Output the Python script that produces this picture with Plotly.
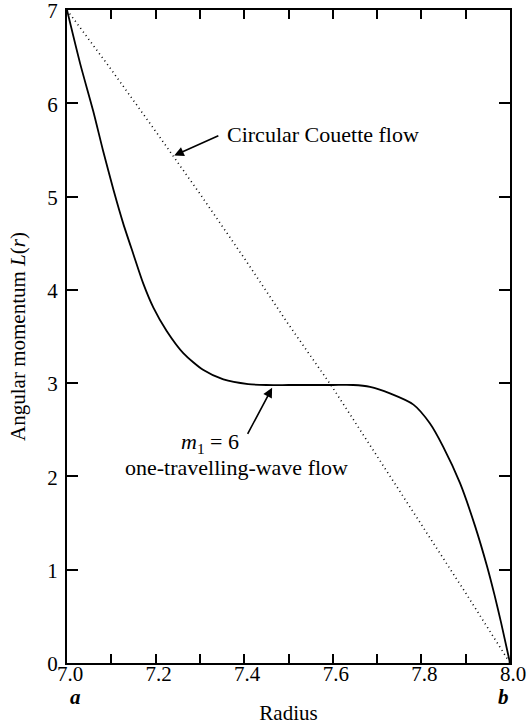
import plotly.graph_objects as go

# One-travelling-wave flow (m1 = 6)
wave_r = [7.0, 7.03, 7.059, 7.081, 7.105, 7.127, 7.150, 7.172, 7.195, 7.225, 7.263,
          7.308, 7.353, 7.409, 7.45, 7.50, 7.55, 7.60, 7.646, 7.684, 7.729, 7.782,
          7.819, 7.849, 7.887, 7.921, 7.948, 7.965, 7.98, 8.0]
wave_L = [7.0, 6.42, 5.92, 5.50, 5.07, 4.71, 4.38, 4.07, 3.81, 3.56, 3.32,
          3.14, 3.04, 2.99, 2.98, 2.98, 2.98, 2.98, 2.98, 2.96, 2.89, 2.77,
          2.57, 2.32, 1.93, 1.47, 1.04, 0.73, 0.43, 0.0]

# Circular Couette flow
couette_r = [7.0, 7.1, 7.2, 7.3, 7.4, 7.5, 7.6, 7.7, 7.8, 7.9, 8.0]
couette_L = [7.0, 6.36, 5.70, 5.03, 4.34, 3.63, 2.95, 2.22, 1.49, 0.75, 0.0]

x_tick_vals = [7.0, 7.1, 7.2, 7.3, 7.4, 7.5, 7.6, 7.7, 7.8, 7.9, 8.0]
x_tick_text = ["7.0", "", "7.2", "", "7.4", "", "7.6", "", "7.8", "", "8.0"]
y_tick_vals = [0, 1, 2, 3, 4, 5, 6, 7]
y_tick_text = ["0", "1", "2", "3", "4", "5", "6", "7"]

FONT = "Liberation Serif"
TXT = 22

fig = go.Figure()
fig.add_trace(go.Scatter(x=couette_r, y=couette_L, mode="lines",
                         line=dict(color="black", width=1.6, dash="1px,3.5px"),
                         hoverinfo="skip", showlegend=False))
fig.add_trace(go.Scatter(x=wave_r, y=wave_L, mode="lines",
                         line=dict(color="black", width=1.8, shape="spline", smoothing=0.7),
                         hoverinfo="skip", showlegend=False))

ann = []
# Couette label + arrow
ann.append(dict(x=7.242, y=5.44, ax=7.345, ay=5.66, xref="x", yref="y", axref="x", ayref="y",
                text="", showarrow=True, arrowhead=2, arrowsize=1.2, arrowwidth=1.6,
                arrowcolor="black"))
ann.append(dict(x=7.357, y=5.67, xref="x", yref="y", text="Circular Couette flow",
                showarrow=False, xanchor="left", yanchor="middle",
                font=dict(family=FONT, size=TXT, color="black")))
# m1 label + arrow
ann.append(dict(x=7.463, y=2.95, ax=7.406, ay=2.44, xref="x", yref="y", axref="x", ayref="y",
                text="", showarrow=True, arrowhead=2, arrowsize=1.2, arrowwidth=1.6,
                arrowcolor="black"))
ann.append(dict(x=7.323, y=2.36, xref="x", yref="y", text="<i>m</i><sub>1</sub> = 6",
                showarrow=False, xanchor="center", yanchor="middle",
                font=dict(family=FONT, size=TXT, color="black")))
ann.append(dict(x=7.383, y=2.10, xref="x", yref="y", text="one-travelling-wave flow",
                showarrow=False, xanchor="center", yanchor="middle",
                font=dict(family=FONT, size=TXT, color="black")))
# a, b labels
ann.append(dict(x=7.0, y=-0.052, xref="x", yref="paper", text="<i><b>a</b></i>",
                showarrow=False, xanchor="left", yanchor="middle", xshift=1,
                font=dict(family=FONT, size=21, color="black")))
ann.append(dict(x=7.985, y=-0.052, xref="x", yref="paper", text="<i><b>b</b></i>",
                showarrow=False, xanchor="center", yanchor="middle",
                font=dict(family=FONT, size=21, color="black")))

fig.update_layout(
    width=527, height=725,
    margin=dict(l=67, r=17, t=10, b=62),
    paper_bgcolor="white", plot_bgcolor="white",
    font=dict(family=FONT, size=21, color="black"),
    annotations=ann,
    xaxis=dict(range=[7.0, 8.0], tickvals=x_tick_vals, ticktext=x_tick_text,
               ticks="inside", ticklen=9, tickwidth=1.5, tickcolor="black",
               ticklabelstandoff=-9, ticklabelshift=3, ticklabeloverflow="allow",
               showline=True, linewidth=2, linecolor="black", mirror="ticks",
               showgrid=False, zeroline=False, automargin=False,
               title=dict(text="Radius", standoff=21, font=dict(size=21))),
    yaxis=dict(range=[0, 7], tickvals=y_tick_vals, ticktext=y_tick_text,
               ticks="inside", ticklen=11, tickwidth=1.5, tickcolor="black",
               ticklabelstandoff=3, ticklabelshift=1, ticklabeloverflow="allow",
               showline=True, linewidth=2, linecolor="black", mirror="ticks",
               showgrid=False, zeroline=False, automargin=False,
               title=dict(text="Angular momentum <i>L</i>(<i>r</i>)", standoff=16,
                          font=dict(size=21))),
)

fig.write_html("out.html")
